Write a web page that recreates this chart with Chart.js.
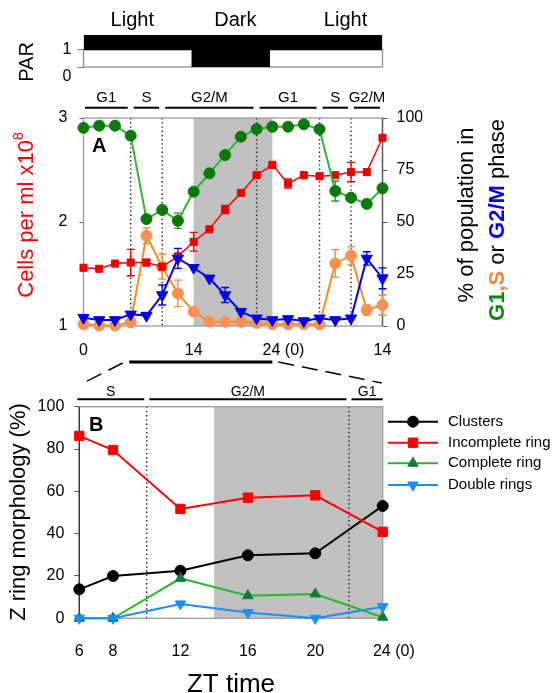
<!DOCTYPE html>
<html><head><meta charset="utf-8">
<script src="https://cdn.jsdelivr.net/npm/chart.js@4.4.1/dist/chart.umd.min.js"></script>
<style>
html,body{margin:0;padding:0;background:#fff;}
#wrap{position:relative;width:554px;height:693px;overflow:hidden;background:#fff;}
canvas{position:absolute;left:0;top:0;}
</style></head><body>
<div id="wrap">
<canvas id="cP" width="554" height="693" style="width:554px;height:693px"></canvas>
<canvas id="cA" width="554" height="693" style="width:554px;height:693px"></canvas>
<canvas id="cB" width="554" height="693" style="width:554px;height:693px"></canvas>
</div>
<script>
// ---------------- DATA ----------------
// PAR (light regime)
const parEdges = [0, 13.7, 23.7, 38];
const parPeriods = ['Light', 'Dark', 'Light'];
const parIsLight = [1, 0, 1];
const parLabelX = [6.2, 19.3, 33.3];
const parTicks = [0, 1];

// Panel A
const ztA = [0, 2, 4, 6, 8, 10, 12, 14, 16, 18, 20, 22, 24, 26, 28, 30, 32, 34, 36, 38];
const cells = [1.56, 1.55, 1.60, 1.61, 1.61, 1.57, 1.67, 1.81, 1.93, 2.12, 2.28, 2.45, 2.55, 2.37, 2.45, 2.44, 2.45, 2.48, 2.48, 2.81];
const cellsErr = [null, null, null, 0.127, 0.03, null, null, 0.09, null, 0.04, null, 0.02, 0.02, 0.045, null, null, null, 0.093, null, null];
const g1 = [95.3, 96.3, 96.3, 91.5, 51.4, 55.8, 50.6, 64.6, 73.4, 82.2, 91.0, 94.7, 95.8, 95.8, 97.0, 94.6, 64.9, 61.7, 58.7, 66.2];
const g1Err = [null, null, null, null, null, null, 3.7, null, null, null, null, null, null, null, null, null, 4.8, null, null, null];
const sPhase = [0.8, 0.2, 0.2, 1.8, 43.4, 28.5, 15.7, 6.9, 2.1, 2.0, 2.0, 1.5, 0.8, 0.8, 0.8, 0.8, 30.1, 33.8, 7.7, 10.1];
const sErr = [null, null, null, null, 3.8, 6.0, 6.4, null, null, null, null, null, null, null, null, null, 6.6, 4.4, 2.5, 4.8];
const g2m = [4.0, 2.9, 2.9, 5.6, 5.0, 14.9, 32.5, 28.0, 22.9, 14.9, 6.9, 3.7, 2.9, 3.4, 2.4, 3.7, 2.9, 3.7, 32.5, 22.9];
const g2mErr = [null, null, null, null, null, 4.8, 4.8, null, null, 3.6, null, null, null, null, null, null, null, null, 3.2, 5.0];
const phaseA = ['G1', 'S', 'G2/M', 'G1', 'S', 'G2/M'];
const phaseEdgesA = [0, 6, 10, 22, 30, 34, 38];
const darkA = [14, 24];
const xTicksA = [0, 14, 24, 38];
const xLabelsA = ['0', '14', '24 (0)', '14'];
const yTicksCells = [1, 2, 3];
const yTicksPct = [0, 25, 50, 75, 100];

// Panel B
const ztB = [6, 8, 12, 16, 20, 24];
const clusters = [13.7, 20.0, 22.5, 29.8, 30.7, 53.1];
const incompleteRing = [86.2, 79.5, 51.7, 57.0, 58.1, 40.9];
const completeRing = [0, 0, 18.9, 10.7, 11.5, 0.5];
const doubleRings = [0, 0, 6.8, 2.7, 0, 5.5];
const seriesNamesB = ['Clusters', 'Incomplete ring', 'Complete ring', 'Double rings'];
const phaseB = ['S', 'G2/M', 'G1'];
const phaseEdgesB = [6, 10, 22, 24];
const darkB = [14, 24];
const xTicksB = [6, 8, 12, 16, 20, 24];
const xLabelsB = ['6', '8', '12', '16', '20', '24 (0)'];
const yTicksB = [0, 20, 40, 60, 80, 100];

// ---------------- SETUP ----------------
const FONT = 'Arial, "Liberation Sans", Helvetica, sans-serif';
Chart.defaults.font.family = FONT;
Chart.defaults.color = '#000';
Chart.defaults.animation = false;
Chart.defaults.events = [];
Chart.defaults.plugins.legend.display = false;
Chart.defaults.plugins.tooltip.enabled = false;
const W = 554, H = 693;

const mctx = document.createElement('canvas').getContext('2d');
function centerFirstWord(s, px) {
  const i = s.indexOf(' (');
  if (i < 0) return s;
  mctx.font = px + 'px ' + FONT;
  const wSuf = mctx.measureText(s.slice(i)).width;
  const wSp = mctx.measureText(' ').width;
  return ' '.repeat(Math.round(wSuf / wSp)) + s;
}
function pts(xs, ys) { return xs.map((x, i) => ({x: x, y: ys[i]})); }

function rotText(ctx, x, y, segs, angle) {
  ctx.save();
  let total = 0;
  const ws = segs.map(s => { ctx.font = s.font; const w = ctx.measureText(s.t).width; total += w; return w; });
  ctx.translate(x, y); ctx.rotate(angle);
  ctx.textAlign = 'left'; ctx.textBaseline = 'middle';
  let pos = -total / 2;
  segs.forEach((s, i) => { ctx.font = s.font; ctx.fillStyle = s.c; ctx.fillText(s.t, pos, s.dy || 0); pos += ws[i]; });
  ctx.restore();
}
function phaseBars(chart, edges, names, yLine, yText, px, gap) {
  const {ctx, scales: {x}} = chart;
  ctx.save();
  ctx.strokeStyle = '#000'; ctx.lineWidth = 2; ctx.fillStyle = '#000';
  ctx.font = px + 'px ' + FONT; ctx.textAlign = 'center'; ctx.textBaseline = 'middle';
  for (let i = 0; i < names.length; i++) {
    const x0 = x.getPixelForValue(edges[i]) + (i === 0 ? gap.first : gap.inner);
    const x1 = x.getPixelForValue(edges[i + 1]) - (i === names.length - 1 ? gap.last : gap.inner);
    ctx.beginPath(); ctx.moveTo(x0, yLine); ctx.lineTo(x1, yLine); ctx.stroke();
    ctx.fillText(names[i], (x0 + x1) / 2, yText);
  }
  ctx.restore();
}
function shadeAndDots(chart, dark, dots) {
  const {ctx, chartArea: a, scales: {x}} = chart;
  ctx.save();
  const x0 = x.getPixelForValue(dark[0]), x1 = x.getPixelForValue(dark[1]);
  ctx.fillStyle = '#c0c0c0';
  ctx.fillRect(x0, a.top, x1 - x0, a.bottom - a.top);
  ctx.strokeStyle = '#222'; ctx.lineWidth = 1.4; ctx.setLineDash([1.4, 2.8]);
  dots.forEach(z => {
    const px = x.getPixelForValue(z);
    ctx.beginPath(); ctx.moveTo(px, a.top); ctx.lineTo(px, a.bottom); ctx.stroke();
  });
  ctx.setLineDash([]);
  ctx.strokeStyle = '#9a9a9a'; ctx.lineWidth = 1.3;
  ctx.strokeRect(a.left, a.top, a.right - a.left, a.bottom - a.top);
  ctx.restore();
}
function errorBars(chart, args) {
  const ds = chart.data.datasets[args.index];
  if (!ds.errors) return;
  const ys = chart.scales[ds.yAxisID];
  const ctx = chart.ctx;
  ctx.save(); ctx.strokeStyle = ds.errColor; ctx.lineWidth = 1.3;
  ds.errors.forEach((e, i) => {
    if (e == null) return;
    const p = args.meta.data[i]; const v = ds.data[i].y;
    const y1 = ys.getPixelForValue(v + e), y2 = ys.getPixelForValue(v - e);
    ctx.beginPath();
    ctx.moveTo(p.x, y1); ctx.lineTo(p.x, y2);
    ctx.moveTo(p.x - 4, y1); ctx.lineTo(p.x + 4, y1);
    ctx.moveTo(p.x - 4, y2); ctx.lineTo(p.x + 4, y2);
    ctx.stroke();
  });
  ctx.restore();
}

// ---------------- PAR CHART ----------------
const AX_L = 83.5, AX_R = 382.5;
const parDatasets = [{
  data: [{x: parEdges[0], y: 1.88}, {x: parEdges[parEdges.length - 1], y: 1.88}],
  fill: {value: 1}, backgroundColor: '#000', borderWidth: 0, pointRadius: 0
}];
parPeriods.forEach((p, i) => {
  if (!parIsLight[i]) parDatasets.push({
    data: [{x: parEdges[i], y: 1}, {x: parEdges[i + 1], y: 1}],
    fill: {value: 0}, backgroundColor: '#000', borderWidth: 0, pointRadius: 0
  });
});
const chartP = new Chart(document.getElementById('cP'), {
  type: 'line',
  data: {datasets: parDatasets},
  options: {
    responsive: false, devicePixelRatio: 1,
    layout: {padding: {left: AX_L - 40, right: W - AX_R, top: 35, bottom: H - 67}},
    scales: {
      x: {type: 'linear', min: 0, max: 38, display: false},
      y: {type: 'linear', min: 0, max: 1.88,
        afterBuildTicks: s => { s.ticks = parTicks.map(v => ({value: v})); },
        ticks: {font: {size: 16}, padding: 6, autoSkip: false,
          callback: v => v === 0 ? ['', String(v)] : String(v)},
        grid: {drawOnChartArea: false, tickLength: 6, color: '#777'},
        border: {display: false},
        afterFit: s => { s.width = 40; }}
    }
  },
  plugins: [{
    id: 'parDeco',
    beforeDatasetsDraw(chart) {
      const {ctx, chartArea: a, scales: {y}} = chart;
      ctx.save(); ctx.strokeStyle = '#8a8a8a'; ctx.lineWidth = 1.3;
      const y1 = y.getPixelForValue(1), y0 = y.getPixelForValue(0);
      ctx.strokeRect(a.left, y1, a.right - a.left, y0 - y1);
      ctx.restore();
    },
    afterDraw(chart) {
      const {ctx, scales: {x}} = chart;
      ctx.save(); ctx.fillStyle = '#000'; ctx.font = '20px ' + FONT;
      ctx.textAlign = 'center'; ctx.textBaseline = 'middle';
      parPeriods.forEach((p, i) => ctx.fillText(p, x.getPixelForValue(parLabelX[i]), 20));
      ctx.restore();
      rotText(ctx, 27, 62, [{t: 'PAR', font: '20px ' + FONT, c: '#000'}], -Math.PI / 2);
    }
  }]
});

// ---------------- PANEL A ----------------
const chartA = new Chart(document.getElementById('cA'), {
  type: 'line',
  data: {datasets: [
    {label: 'G1', data: pts(ztA, g1), yAxisID: 'yR', errors: g1Err, errColor: '#2a9a2a',
      borderColor: '#2fb82f', borderWidth: 2, pointStyle: 'circle', pointRadius: 5.5,
      pointBackgroundColor: '#0b7a0b', pointBorderColor: '#0b7a0b', pointBorderWidth: 1, clip: false},
    {label: 'G2/M', data: pts(ztA, g2m), yAxisID: 'yR', errors: g2mErr, errColor: '#0000dd',
      borderColor: '#0000ee', borderWidth: 2, pointStyle: 'triangle', pointRotation: 180, pointRadius: 6.5,
      pointBackgroundColor: '#0000ee', pointBorderColor: '#0000ee', pointBorderWidth: 1, clip: false},
    {label: 'Cells', data: pts(ztA, cells), yAxisID: 'yL', errors: cellsErr, errColor: '#ee0000',
      borderColor: '#ff0000', borderWidth: 1.5, pointStyle: 'rect', pointRadius: 5,
      pointBackgroundColor: '#ee0000', pointBorderColor: '#ee0000', pointBorderWidth: 1, clip: false},
    {label: 'S', data: pts(ztA, sPhase), yAxisID: 'yR', errors: sErr, errColor: '#f2853a',
      borderColor: '#ff8c1a', borderWidth: 2, pointStyle: 'circle', pointRadius: 5.5,
      pointBackgroundColor: '#fa9152', pointBorderColor: '#fa9152', pointBorderWidth: 1, clip: false}
  ]},
  options: {
    responsive: false, devicePixelRatio: 1,
    layout: {padding: {left: AX_L - 43.5, right: W - AX_R - 40, top: 118, bottom: H - 326 - 50}},
    scales: {
      x: {type: 'linear', min: 0, max: 38,
        afterBuildTicks: s => { s.ticks = xTicksA.map(v => ({value: v})); },
        ticks: {font: {size: 16}, padding: 7, autoSkip: false, maxRotation: 0,
          callback: v => centerFirstWord(xLabelsA[xTicksA.indexOf(v)], 16)},
        grid: {display: false}, border: {display: false},
        afterFit: s => { s.height = 50; }},
      yL: {type: 'linear', position: 'left', min: 1, max: 3,
        afterBuildTicks: s => { s.ticks = yTicksCells.map(v => ({value: v})); },
        ticks: {font: {size: 16}, padding: 12},
        grid: {drawOnChartArea: false, tickLength: 4, color: '#666'}, border: {display: false},
        afterFit: s => { s.width = 43.5; }},
      yR: {type: 'linear', position: 'right', min: 0, max: 100,
        afterBuildTicks: s => { s.ticks = yTicksPct.map(v => ({value: v})); },
        ticks: {font: {size: 16}, padding: 9},
        grid: {drawOnChartArea: false, tickLength: 5, color: '#555'}, border: {display: false},
        afterFit: s => { s.width = 40; }}
    }
  },
  plugins: [{
    id: 'aDeco',
    beforeDatasetsDraw(chart) {
      shadeAndDots(chart, darkA, phaseEdgesA.slice(1, -1));
      const {ctx, chartArea: a} = chart;
      ctx.save(); ctx.strokeStyle = '#555'; ctx.lineWidth = 1.3;
      ctx.beginPath(); ctx.moveTo(a.right, a.top); ctx.lineTo(a.right, a.bottom); ctx.stroke();
      ctx.restore();
    },
    beforeDatasetDraw: errorBars,
    afterDraw(chart) {
      const ctx = chart.ctx;
      phaseBars(chart, phaseEdgesA, phaseA, 107.7, 98, 15, {first: 1.5, inner: 3, last: 2.5});
      ctx.save(); ctx.fillStyle = '#000'; ctx.font = 'bold 20px ' + FONT;
      ctx.textAlign = 'left'; ctx.textBaseline = 'middle';
      ctx.fillText('A', 92, 146); ctx.restore();
      rotText(ctx, 27, 215, [
        {t: 'Cells per ml x10', font: '22px ' + FONT, c: '#ff0000'},
        {t: '8', font: '14px ' + FONT, c: '#ff0000', dy: -8}], -Math.PI / 2);
      rotText(ctx, 467, 215, [{t: '% of population in', font: '22px ' + FONT, c: '#000'}], -Math.PI / 2);
      rotText(ctx, 498, 220, [
        {t: 'G1', font: 'bold 22px ' + FONT, c: '#0a8a0a'},
        {t: ',S', font: 'bold 22px ' + FONT, c: '#f7853a'},
        {t: ' or ', font: '22px ' + FONT, c: '#000'},
        {t: 'G2/M', font: 'bold 22px ' + FONT, c: '#0000ff'},
        {t: ' phase', font: '22px ' + FONT, c: '#000'}], -Math.PI / 2);
    }
  }]
});

// ---------------- PANEL B ----------------
const BX_L = 79.3, BX_R = 382.7, BY_T = 406.7, BY_B = 618.3;
const dsB = [
  {label: seriesNamesB[0], data: pts(ztB, clusters), order: 3, borderColor: '#000', borderWidth: 2,
    pointStyle: 'circle', pointRadius: 5.5, pointBackgroundColor: '#000', pointBorderColor: '#000', pointBorderWidth: 1, clip: false},
  {label: seriesNamesB[1], data: pts(ztB, incompleteRing), order: 2, borderColor: '#ff0000', borderWidth: 2,
    pointStyle: 'rect', pointRadius: 6.6, pointBackgroundColor: '#ff0000', pointBorderColor: '#ff0000', pointBorderWidth: 1, clip: false},
  {label: seriesNamesB[2], data: pts(ztB, completeRing), order: 1, borderColor: '#22bb22', borderWidth: 2,
    pointStyle: 'triangle', pointRadius: 6, pointBackgroundColor: '#137a3c', pointBorderColor: '#137a3c', pointBorderWidth: 1, clip: false},
  {label: seriesNamesB[3], data: pts(ztB, doubleRings), order: 0, borderColor: '#1a8cff', borderWidth: 2,
    pointStyle: 'triangle', pointRotation: 180, pointRadius: 6, pointBackgroundColor: '#1a8cff', pointBorderColor: '#1a8cff', pointBorderWidth: 1, clip: false}
];
const chartB = new Chart(document.getElementById('cB'), {
  type: 'line',
  data: {datasets: dsB},
  options: {
    responsive: false, devicePixelRatio: 1,
    layout: {padding: {left: BX_L - 44, right: W - BX_R, top: BY_T, bottom: H - BY_B - 60}},
    scales: {
      x: {type: 'linear', min: 6, max: 24,
        afterBuildTicks: s => { s.ticks = xTicksB.map(v => ({value: v})); },
        ticks: {font: {size: 16}, padding: 16, autoSkip: false, maxRotation: 0,
          callback: v => centerFirstWord(xLabelsB[xTicksB.indexOf(v)], 16)},
        grid: {display: false}, border: {display: false},
        afterFit: s => { s.height = 60; }},
      y: {type: 'linear', min: 0, max: 100,
        afterBuildTicks: s => { s.ticks = yTicksB.map(v => ({value: v})); },
        ticks: {font: {size: 16}, padding: 10},
        grid: {drawOnChartArea: false, tickLength: 5, color: '#555'}, border: {display: false},
        afterFit: s => { s.width = 44; }}
    }
  },
  plugins: [{
    id: 'bDeco',
    beforeDatasetsDraw(chart) {
      shadeAndDots(chart, darkB, phaseEdgesB.slice(1, -1));
      const {ctx, chartArea: a} = chart;
      ctx.save(); ctx.strokeStyle = '#333'; ctx.lineWidth = 1.3;
      ctx.beginPath(); ctx.moveTo(a.left, a.top); ctx.lineTo(a.left, a.bottom); ctx.stroke();
      ctx.restore();
    },
    afterDraw(chart) {
      const {ctx, chartArea: a} = chart;
      phaseBars(chart, phaseEdgesB, phaseB, 399.3, 391.7, 14, {first: -2, inner: 2.5, last: 0});
      ctx.save();
      ctx.fillStyle = '#000'; ctx.font = 'bold 20px ' + FONT; ctx.textAlign = 'left'; ctx.textBaseline = 'middle';
      ctx.fillText('B', 89, 425);
      // zoom connector from panel A
      const xa = chartA.scales.x;
      const xs = xa.getPixelForValue(ztB[0]), xe = xa.getPixelForValue(ztB[ztB.length - 1]);
      ctx.strokeStyle = '#000'; ctx.lineWidth = 3;
      ctx.beginPath(); ctx.moveTo(xs - 1.5, 362); ctx.lineTo(xe, 362); ctx.stroke();
      ctx.lineWidth = 1.5; ctx.setLineDash([16, 8]);
      ctx.beginPath(); ctx.moveTo(xs - 8, 363); ctx.lineTo(a.left + 2, 384); ctx.stroke();
      ctx.beginPath(); ctx.moveTo(xe + 6, 362); ctx.lineTo(a.right - 1, 383); ctx.stroke();
      ctx.setLineDash([]);
      // legend
      const ly = [421.7, 442.7, 463.3, 485];
      chart.data.datasets.forEach((d, i) => {
        ctx.strokeStyle = d.borderColor; ctx.lineWidth = 2;
        ctx.beginPath(); ctx.moveTo(388, ly[i]); ctx.lineTo(438, ly[i]); ctx.stroke();
        ctx.fillStyle = d.pointBackgroundColor; ctx.strokeStyle = d.pointBorderColor; ctx.lineWidth = 1;
        Chart.helpers.drawPoint(ctx, {pointStyle: d.pointStyle, rotation: d.pointRotation || 0, radius: d.pointRadius, borderWidth: 1}, 413, ly[i]);
        ctx.fillStyle = '#000'; ctx.font = '15px ' + FONT; ctx.textAlign = 'left'; ctx.textBaseline = 'middle';
        ctx.fillText(d.label, 448, ly[i]);
      });
      ctx.restore();
      rotText(ctx, 19, 512, [{t: 'Z ring morphology (%)', font: '22px ' + FONT, c: '#000'}], -Math.PI / 2);
      rotText(ctx, (a.left + a.right) / 2, 685, [{t: 'ZT time', font: '26px ' + FONT, c: '#000'}], 0);
    }
  }]
});
</script>
</body></html>
